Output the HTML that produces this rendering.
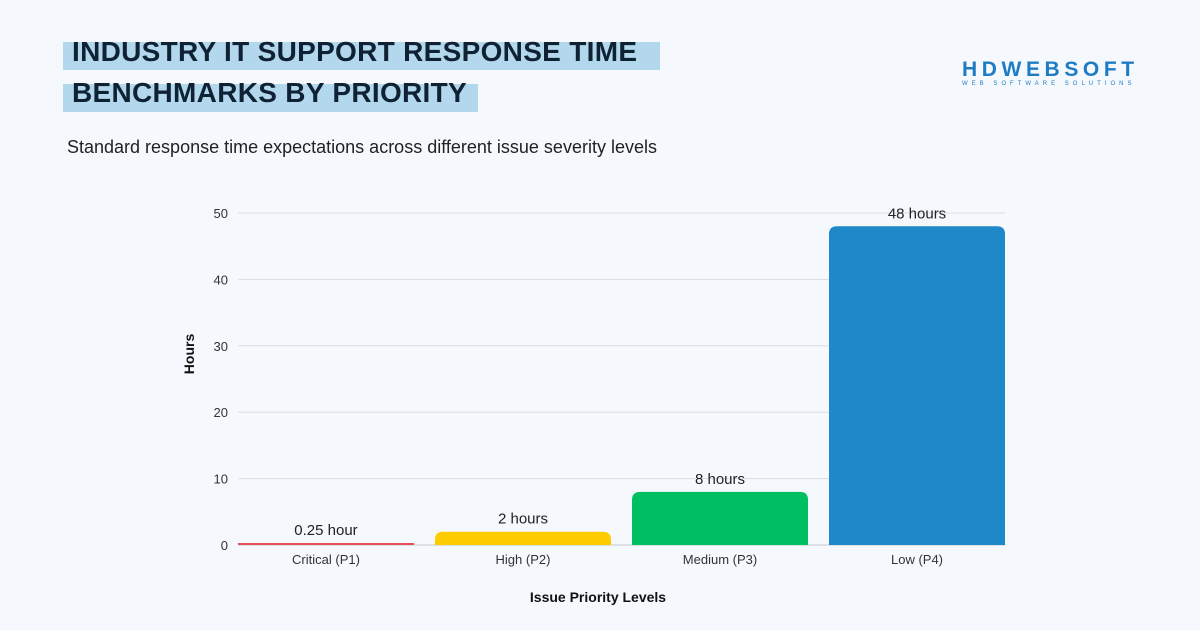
<!DOCTYPE html>
<html><head><meta charset="utf-8"><style>
body{margin:0;width:1200px;height:630px;background:#f5f9fd;font-family:"Liberation Sans",sans-serif;position:relative;overflow:hidden}
.hl{position:absolute;background:#b3d8ee;height:28px}
.tt{position:absolute;left:72px;font-weight:bold;font-size:28px;color:#0f2233;letter-spacing:0.3px}
</style></head><body>
<div class="hl" style="left:63px;top:42px;width:597px"></div>
<div class="hl" style="left:63px;top:84px;width:415px"></div>
<div class="tt" style="top:36px">INDUSTRY IT SUPPORT RESPONSE TIME</div>
<div class="tt" style="top:77px">BENCHMARKS BY PRIORITY</div>
<div style="position:absolute;left:67px;top:137px;font-size:18px;color:#222">Standard response time expectations across different issue severity levels</div>
<div style="position:absolute;left:962px;top:58px;color:#1e7cc4">
<div style="font-size:21px;font-weight:bold;letter-spacing:4.6px">HDWEBSOFT</div>
<div style="font-size:6px;letter-spacing:4px;margin-top:-1px">WEB SOFTWARE SOLUTIONS</div></div>
<svg id="c" width="1200" height="630" style="position:absolute;left:0;top:0"></svg>
<script>
const categories=["Critical (P1)","High (P2)","Medium (P3)","Low (P4)"];
const values=[0.25,2,8,48];
const valueLabels=["0.25 hour","2 hours","8 hours","48 hours"];
const colors=["#e84e5a","#ffcc00","#00bf63","#1e88c9"];
const ticks=[0,10,20,30,40,50];
const svg=document.getElementById('c');const NS="http://www.w3.org/2000/svg";
const x0=238,x1=1005,yb=545,yt=213,ymax=50;
const y=v=>yb-(v/ymax)*(yb-yt);
const gap=21;
const bw=(x1-x0+gap)/categories.length;
function mk(t,a,txt){const e=document.createElementNS(NS,t);for(const k in a)e.setAttribute(k,a[k]);if(txt!=null)e.textContent=txt;svg.appendChild(e);return e;}
ticks.forEach(t=>{
const l=mk('line',{x1:x0,x2:x1,y1:y(t),y2:y(t),stroke:t?'#dadde2':'#c5c8cc','stroke-width':1});


const tx=mk('text',{x:228,y:y(t)+5,'text-anchor':'end','font-size':13,fill:'#333','font-family':'Liberation Sans'},t);


});
categories.forEach((c,i)=>{
const bx=x0+i*bw,w=bw-gap,top=y(values[i]),h=yb-top,r=Math.min(8,h);
const p=mk('path',{d:`M${bx},${yb}V${top+r}Q${bx},${top} ${bx+r},${top}H${bx+w-r}Q${bx+w},${top} ${bx+w},${top+r}V${yb}Z`,fill:colors[i]});
if(h<3){p.setAttribute('d',`M${bx},${yb-2}H${bx+w}V${yb}H${bx}Z`);}


const vl=mk('text',{x:bx+w/2,y:Math.min(top,yb-2)-8,'text-anchor':'middle','font-size':15,fill:'#222','font-family':'Liberation Sans'},valueLabels[i]);


const xl=mk('text',{x:bx+w/2,y:564,'text-anchor':'middle','font-size':13,fill:'#333','font-family':'Liberation Sans'},c);


});
const xt=mk('text',{x:598,y:602,'text-anchor':'middle','font-size':14,'font-weight':'bold',fill:'#111','font-family':'Liberation Sans'},'Issue Priority Levels');


const yt2=mk('text',{x:0,y:0,transform:'translate(194,354) rotate(-90)','text-anchor':'middle','font-size':14,'font-weight':'bold',fill:'#111','font-family':'Liberation Sans'},'Hours');


</script>
</body></html>
